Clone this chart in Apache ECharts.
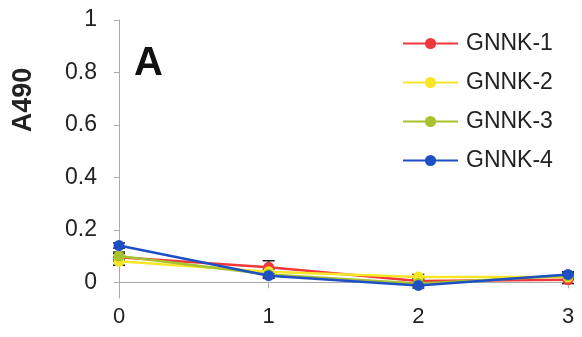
<!DOCTYPE html>
<html><head><meta charset="utf-8">
<script src="https://cdn.jsdelivr.net/npm/echarts@6/dist/echarts.min.js"></script>
<style>html,body{margin:0;padding:0;background:#fff}#c{width:582px;height:337px}</style>
</head><body><div id="c"></div>
<script>
const xValues = [0, 1, 2, 3];
const seriesNames = ['GNNK-1', 'GNNK-2', 'GNNK-3', 'GNNK-4'];
const gnnk1 = [0.095, 0.057, 0.005, 0.01];
const gnnk2 = [0.08, 0.04, 0.02, 0.02];
const gnnk3 = [0.10, 0.03, -0.005, 0.025];
const gnnk4 = [0.14, 0.025, -0.012, 0.03];
const err1 = [0.015, 0.025, 0.01, 0.015];
const err2 = [0.015, 0.01, 0.01, 0.01];
const err3 = [0.015, 0.01, 0.01, 0.01];
const err4 = [0.01, 0.01, 0.01, 0.01];
const yTicks = [0, 0.2, 0.4, 0.6, 0.8, 1];
const colors = ['#f0383c', '#f6e626', '#a6c22c', '#1f4fc4'];

const allVals = [gnnk1, gnnk2, gnnk3, gnnk4];
const allErr = [err1, err2, err3, err4];
const FONT = 'Liberation Sans, Arial, sans-serif';

const series = [];
allVals.forEach((vals, i) => {
  series.push({
    name: seriesNames[i], type: 'line', data: xValues.map((x, j) => [x, vals[j]]),
    symbol: 'circle', symbolSize: 11, lineStyle: { width: 2.5, color: colors[i] },
    itemStyle: { color: colors[i] }, z: 3 + i
  });
  series.push({
    type: 'custom', silent: true, z: 2,
    data: xValues.map((x, j) => [x, vals[j] - allErr[i][j], vals[j] + allErr[i][j]]),
    renderItem: function (params, api) {
      const lo = api.coord([api.value(0), api.value(1)]);
      const hi = api.coord([api.value(0), api.value(2)]);
      const w = 6;
      const st = { stroke: '#222', lineWidth: 1.5 };
      return { type: 'group', children: [
        { type: 'line', shape: { x1: lo[0], y1: lo[1], x2: hi[0], y2: hi[1] }, style: st },
        { type: 'line', shape: { x1: lo[0] - w, y1: lo[1], x2: lo[0] + w, y2: lo[1] }, style: st },
        { type: 'line', shape: { x1: hi[0] - w, y1: hi[1], x2: hi[0] + w, y2: hi[1] }, style: st }
      ]};
    }
  });
});

const chart = echarts.init(document.getElementById('c'));
chart.setOption({
  animation: false,
  textStyle: { fontFamily: FONT },
  grid: { left: 119, right: 14, top: 20, bottom: 39, outerBoundsMode: 'none', containLabel: false },
  graphic: [
    { type: 'text', left: 134, top: 44, style: { text: 'A', font: 'bold 40px ' + FONT, fill: '#111' } },
    { type: 'text', x: 24, y: 100, rotation: Math.PI / 2,
      style: { text: 'A490', font: 'bold 27px ' + FONT, fill: '#222', align: 'center', verticalAlign: 'middle' } }
  ],
  legend: {
    data: seriesNames, orient: 'vertical', left: 397, top: 27,
    itemWidth: 55, itemHeight: 14, itemGap: 16,
    textStyle: { fontSize: 23, color: '#222', fontFamily: FONT, padding: [0, 0, 0, 3] }
  },
  xAxis: {
    type: 'value', min: 0, max: 3, interval: 1,
    axisLine: { onZero: true, lineStyle: { color: '#aaa', width: 1 } },
    axisTick: { show: true, length: 6, lineStyle: { color: '#aaa' } },
    axisLabel: { fontSize: 22, color: '#222', margin: 8 },
    splitLine: { show: false }
  },
  yAxis: {
    type: 'value', min: -0.06, max: 1,
    axisLine: { show: true, lineStyle: { color: '#aaa', width: 1 } },
    axisTick: { show: true, length: 5, customValues: yTicks, lineStyle: { color: '#aaa' } },
    axisLabel: { fontSize: 23, color: '#222', margin: 22, customValues: yTicks,
      formatter: v => String(Math.round(v * 10) / 10) },
    splitLine: { show: false }
  },
  series: series
});
</script></body></html>
